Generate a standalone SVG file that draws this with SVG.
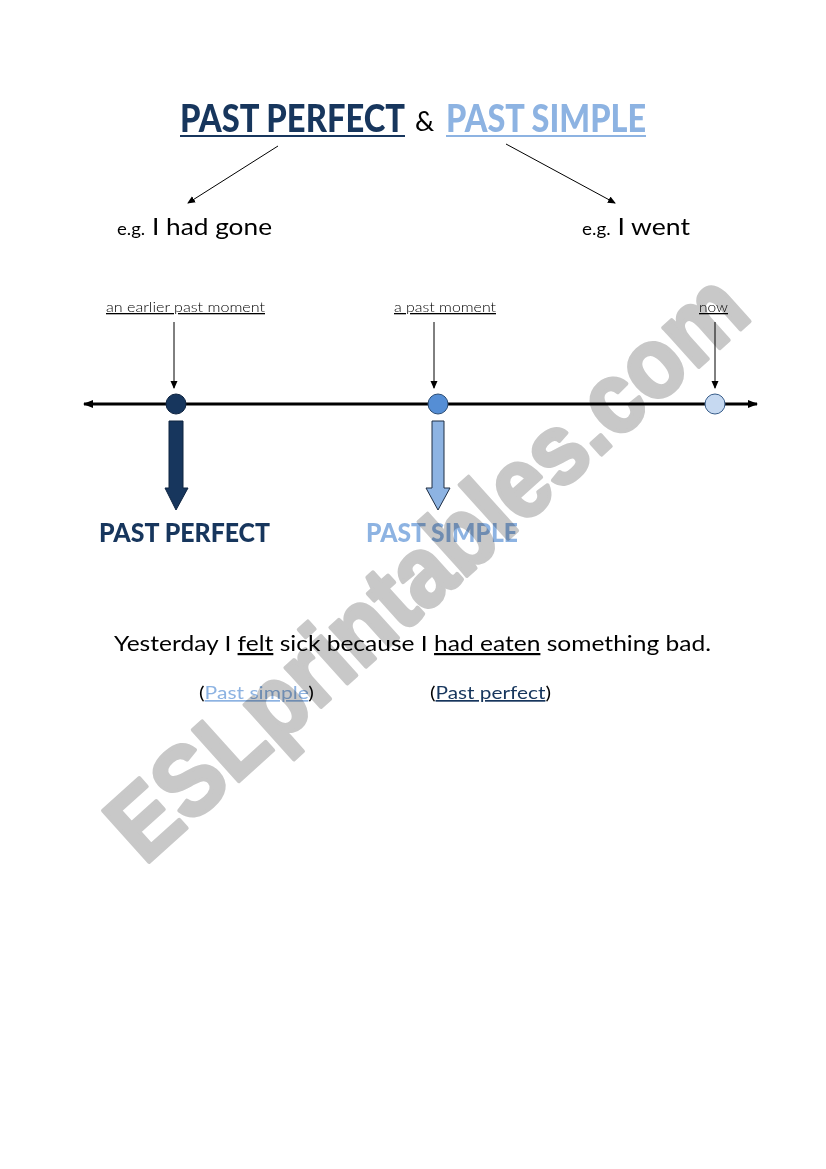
<svg xmlns="http://www.w3.org/2000/svg" width="826" height="1169" viewBox="0 0 826 1169">
<style>
.ttl{font-family:Lato,"Liberation Sans",sans-serif;font-weight:900}
.body{font-family:Lato,"Open Sans",sans-serif}
.lbl{font-family:Lato,"Open Sans",sans-serif;font-weight:300;font-size:13px;text-decoration:underline}
.dark{fill:#17365d}
.light{fill:#8db3e2}
.thin{stroke:#000;stroke-width:1;fill:none}
.wm{mix-blend-mode:multiply}
</style>
<defs>
<marker id="ah" markerWidth="8" markerHeight="8" refX="7" refY="4" orient="auto" markerUnits="userSpaceOnUse">
<path d="M0,0.5 L8,4 L0,7.5 Z" fill="#000"/>
</marker>
<marker id="ahb" markerWidth="10" markerHeight="10" refX="9" refY="5" orient="auto-start-reverse" markerUnits="userSpaceOnUse">
<path d="M0,1 L10,5 L0,9 Z" fill="#000"/>
</marker>
</defs>
<rect width="826" height="1169" fill="#fff"/>
<g id="title">
<text class="ttl dark" x="180" y="132" font-size="38" textLength="225" lengthAdjust="spacingAndGlyphs">PAST PERFECT</text>
<line x1="180" y1="136" x2="405" y2="136" stroke="#17365d" stroke-width="2"/>
<text class="body" x="415" y="131" font-size="27">&amp;</text>
<text class="ttl light" x="446" y="132" font-size="38" textLength="200" lengthAdjust="spacingAndGlyphs">PAST SIMPLE</text>
<line x1="446" y1="136" x2="646" y2="136" stroke="#8db3e2" stroke-width="2"/>
</g>
<g id="eg-perfect">
<text class="body" x="117" y="235" font-size="24" textLength="155" lengthAdjust="spacingAndGlyphs"><tspan font-size="17">e.g.</tspan> I had gone</text>
</g>
<g id="eg-simple">
<text class="body" x="582" y="235" font-size="24" textLength="108" lengthAdjust="spacingAndGlyphs"><tspan font-size="17">e.g.</tspan> I went</text>
</g>
<g id="label-earlier">
<text class="lbl" x="106" y="312" textLength="159" lengthAdjust="spacingAndGlyphs">an earlier past moment</text>
</g>
<g id="label-past">
<text class="lbl" x="394" y="312" textLength="102" lengthAdjust="spacingAndGlyphs">a past moment</text>
</g>
<g id="label-now">
<text class="lbl" x="699" y="312" textLength="29" lengthAdjust="spacingAndGlyphs">now</text>
</g>
<g id="timeline">
<line x1="84" y1="404" x2="757" y2="404" stroke="#000" stroke-width="3" marker-start="url(#ahb)" marker-end="url(#ahb)"/>
</g>
<g id="point-earlier">
<circle cx="176" cy="404" r="10" fill="#17365d" stroke="#0f2440" stroke-width="1"/>
</g>
<g id="point-past">
<circle cx="438" cy="404" r="10" fill="#558ed5" stroke="#2c4d75" stroke-width="1"/>
</g>
<g id="point-now">
<circle cx="715" cy="404" r="10" fill="#c6d9f1" stroke="#385d8a" stroke-width="1"/>
</g>
<g id="connectors">
<line class="thin" x1="278" y1="146" x2="188" y2="203" marker-end="url(#ah)"/>
<line class="thin" x1="506" y1="144" x2="615" y2="203" marker-end="url(#ah)"/>
<line class="thin" x1="174" y1="322" x2="174" y2="388" marker-end="url(#ah)"/>
<line class="thin" x1="434" y1="322" x2="434" y2="388" marker-end="url(#ah)"/>
<line class="thin" x1="715" y1="322" x2="715" y2="388" marker-end="url(#ah)"/>
<path d="M169,421 H183 V488 H188 L176,510 L165,488 H169 Z" fill="#17365d" stroke="#0f2440" stroke-width="1"/>
<path d="M432,421 H444 V488 H450 L438,510 L426,488 H432 Z" fill="#8db3e2" stroke="#1f2f45" stroke-width="1"/>
</g>
<g id="tag-perfect">
<text class="ttl dark" x="99" y="542" font-size="27" textLength="171" lengthAdjust="spacingAndGlyphs">PAST PERFECT</text>
</g>
<g id="tag-simple">
<text class="ttl light" x="366" y="542" font-size="27" textLength="152" lengthAdjust="spacingAndGlyphs">PAST SIMPLE</text>
</g>
<g id="sentence">
<text class="body" x="114" y="651" font-size="22" textLength="597" lengthAdjust="spacingAndGlyphs">Yesterday I <tspan text-decoration="underline">felt</tspan> sick because I <tspan text-decoration="underline">had eaten</tspan> something bad.</text>
</g>
<g id="note-simple">
<text class="body" x="199" y="699" font-size="17" textLength="115" lengthAdjust="spacingAndGlyphs">(<tspan class="light" text-decoration="underline">Past simple</tspan>)</text>
</g>
<g id="note-perfect">
<text class="body" x="430" y="699" font-size="17" textLength="121" lengthAdjust="spacingAndGlyphs">(<tspan class="dark" text-decoration="underline">Past perfect</tspan>)</text>
</g>
<g id="watermark" class="wm">
<text x="425" y="601" transform="rotate(-42 425 565)" text-anchor="middle" font-family="'Liberation Sans',Arial,sans-serif" font-weight="bold" font-size="100" textLength="820" lengthAdjust="spacingAndGlyphs" fill="#c8c8c8" stroke="#c8c8c8" stroke-width="4" stroke-linejoin="round">ESLprintables.com</text>
</g>
</svg>
